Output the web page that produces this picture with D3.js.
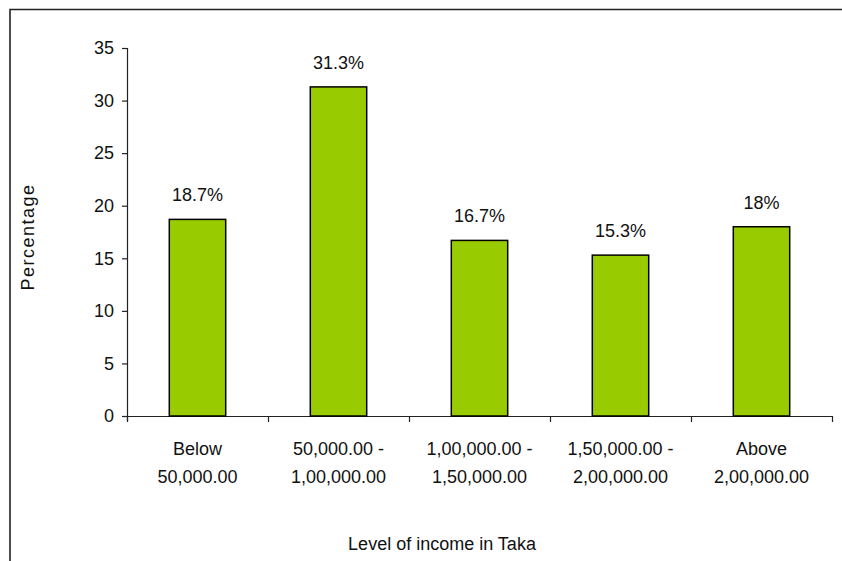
<!DOCTYPE html>
<html><head><meta charset="utf-8">
<script src="https://cdn.jsdelivr.net/npm/d3@7"></script>
<style>body{margin:0;background:#fff}svg{display:block}text{font-family:"Liberation Sans",Arial,sans-serif;fill:#111}</style>
</head><body><svg id="c" width="842" height="561"></svg>
<script>
const categories = [["Below","50,000.00"],["50,000.00 -","1,00,000.00"],["1,00,000.00 -","1,50,000.00"],["1,50,000.00 -","2,00,000.00"],["Above","2,00,000.00"]];
const values = [18.7, 31.3, 16.7, 15.3, 18];
const valueLabels = ["18.7%","31.3%","16.7%","15.3%","18%"];
const yTicks = [0,5,10,15,20,25,30,35];
const xTitle = "Level of income in Taka";
const yTitle = "Percentage";

const svg = d3.select("#c");
const m = {l:127, r:832, t:48, b:416};
const x = d3.scaleBand().domain(d3.range(categories.length)).range([m.l, m.r]).paddingInner(0.6).paddingOuter(0.3);
const y = d3.scaleLinear().domain([0,35]).range([m.b, m.t]);

// outer frame
svg.append("path").attr("d","M10,561 L10,9.5 L842,9.5").attr("fill","none").attr("stroke","#222").attr("stroke-width",1.6);

// y axis
const ya = svg.append("g").attr("transform",`translate(${m.l},0)`)
  .call(d3.axisLeft(y).tickValues(yTicks).tickSize(5).tickPadding(8));
ya.select(".domain").attr("d",`M0.5,${m.t}V${m.b+5}`);
// x axis
const xb = d3.scaleLinear().domain([0,categories.length]).range([m.l,m.r]);
const xa = svg.append("g").attr("transform",`translate(0,${m.b})`)
  .call(d3.axisBottom(xb).tickValues(d3.range(categories.length+1)).tickSize(6).tickFormat(""));
xa.select(".domain").attr("d",`M${m.l},0.5H${m.r}`);
svg.selectAll(".domain,.tick line").attr("stroke","#222").attr("stroke-width",1.2);
ya.selectAll("text").style("font-size","18px").attr("fill","#111");

// category labels
categories.forEach((c,i)=>{
  const cx = x(i)+x.bandwidth()/2;
  const t = svg.append("text").attr("text-anchor","middle").style("font-size","18px");
  t.append("tspan").attr("x",cx).attr("y",455).text(c[0]);
  t.append("tspan").attr("x",cx).attr("y",483).text(c[1]);
});

// bars
svg.selectAll("rect.bar").data(values).join("rect").attr("class","bar")
  .attr("x",(d,i)=>x(i)).attr("width",x.bandwidth())
  .attr("y",d=>y(d)).attr("height",d=>y(0)-y(d))
  .attr("fill","#99CC00").attr("stroke","#000").attr("stroke-width",1.5);

svg.selectAll("text.vl").data(values).join("text").attr("class","vl")
  .attr("x",(d,i)=>x(i)+x.bandwidth()/2).attr("y",d=>y(d)-18)
  .attr("text-anchor","middle").style("font-size","18px").text((d,i)=>valueLabels[i]);

svg.append("text").attr("x",442).attr("y",550).attr("text-anchor","middle").style("font-size","18px").text(xTitle);
svg.append("text").attr("transform","translate(34,237) rotate(-90)").attr("text-anchor","middle")
  .style("font-size","18px").style("letter-spacing","1.5px").text(yTitle);
</script></body></html>
